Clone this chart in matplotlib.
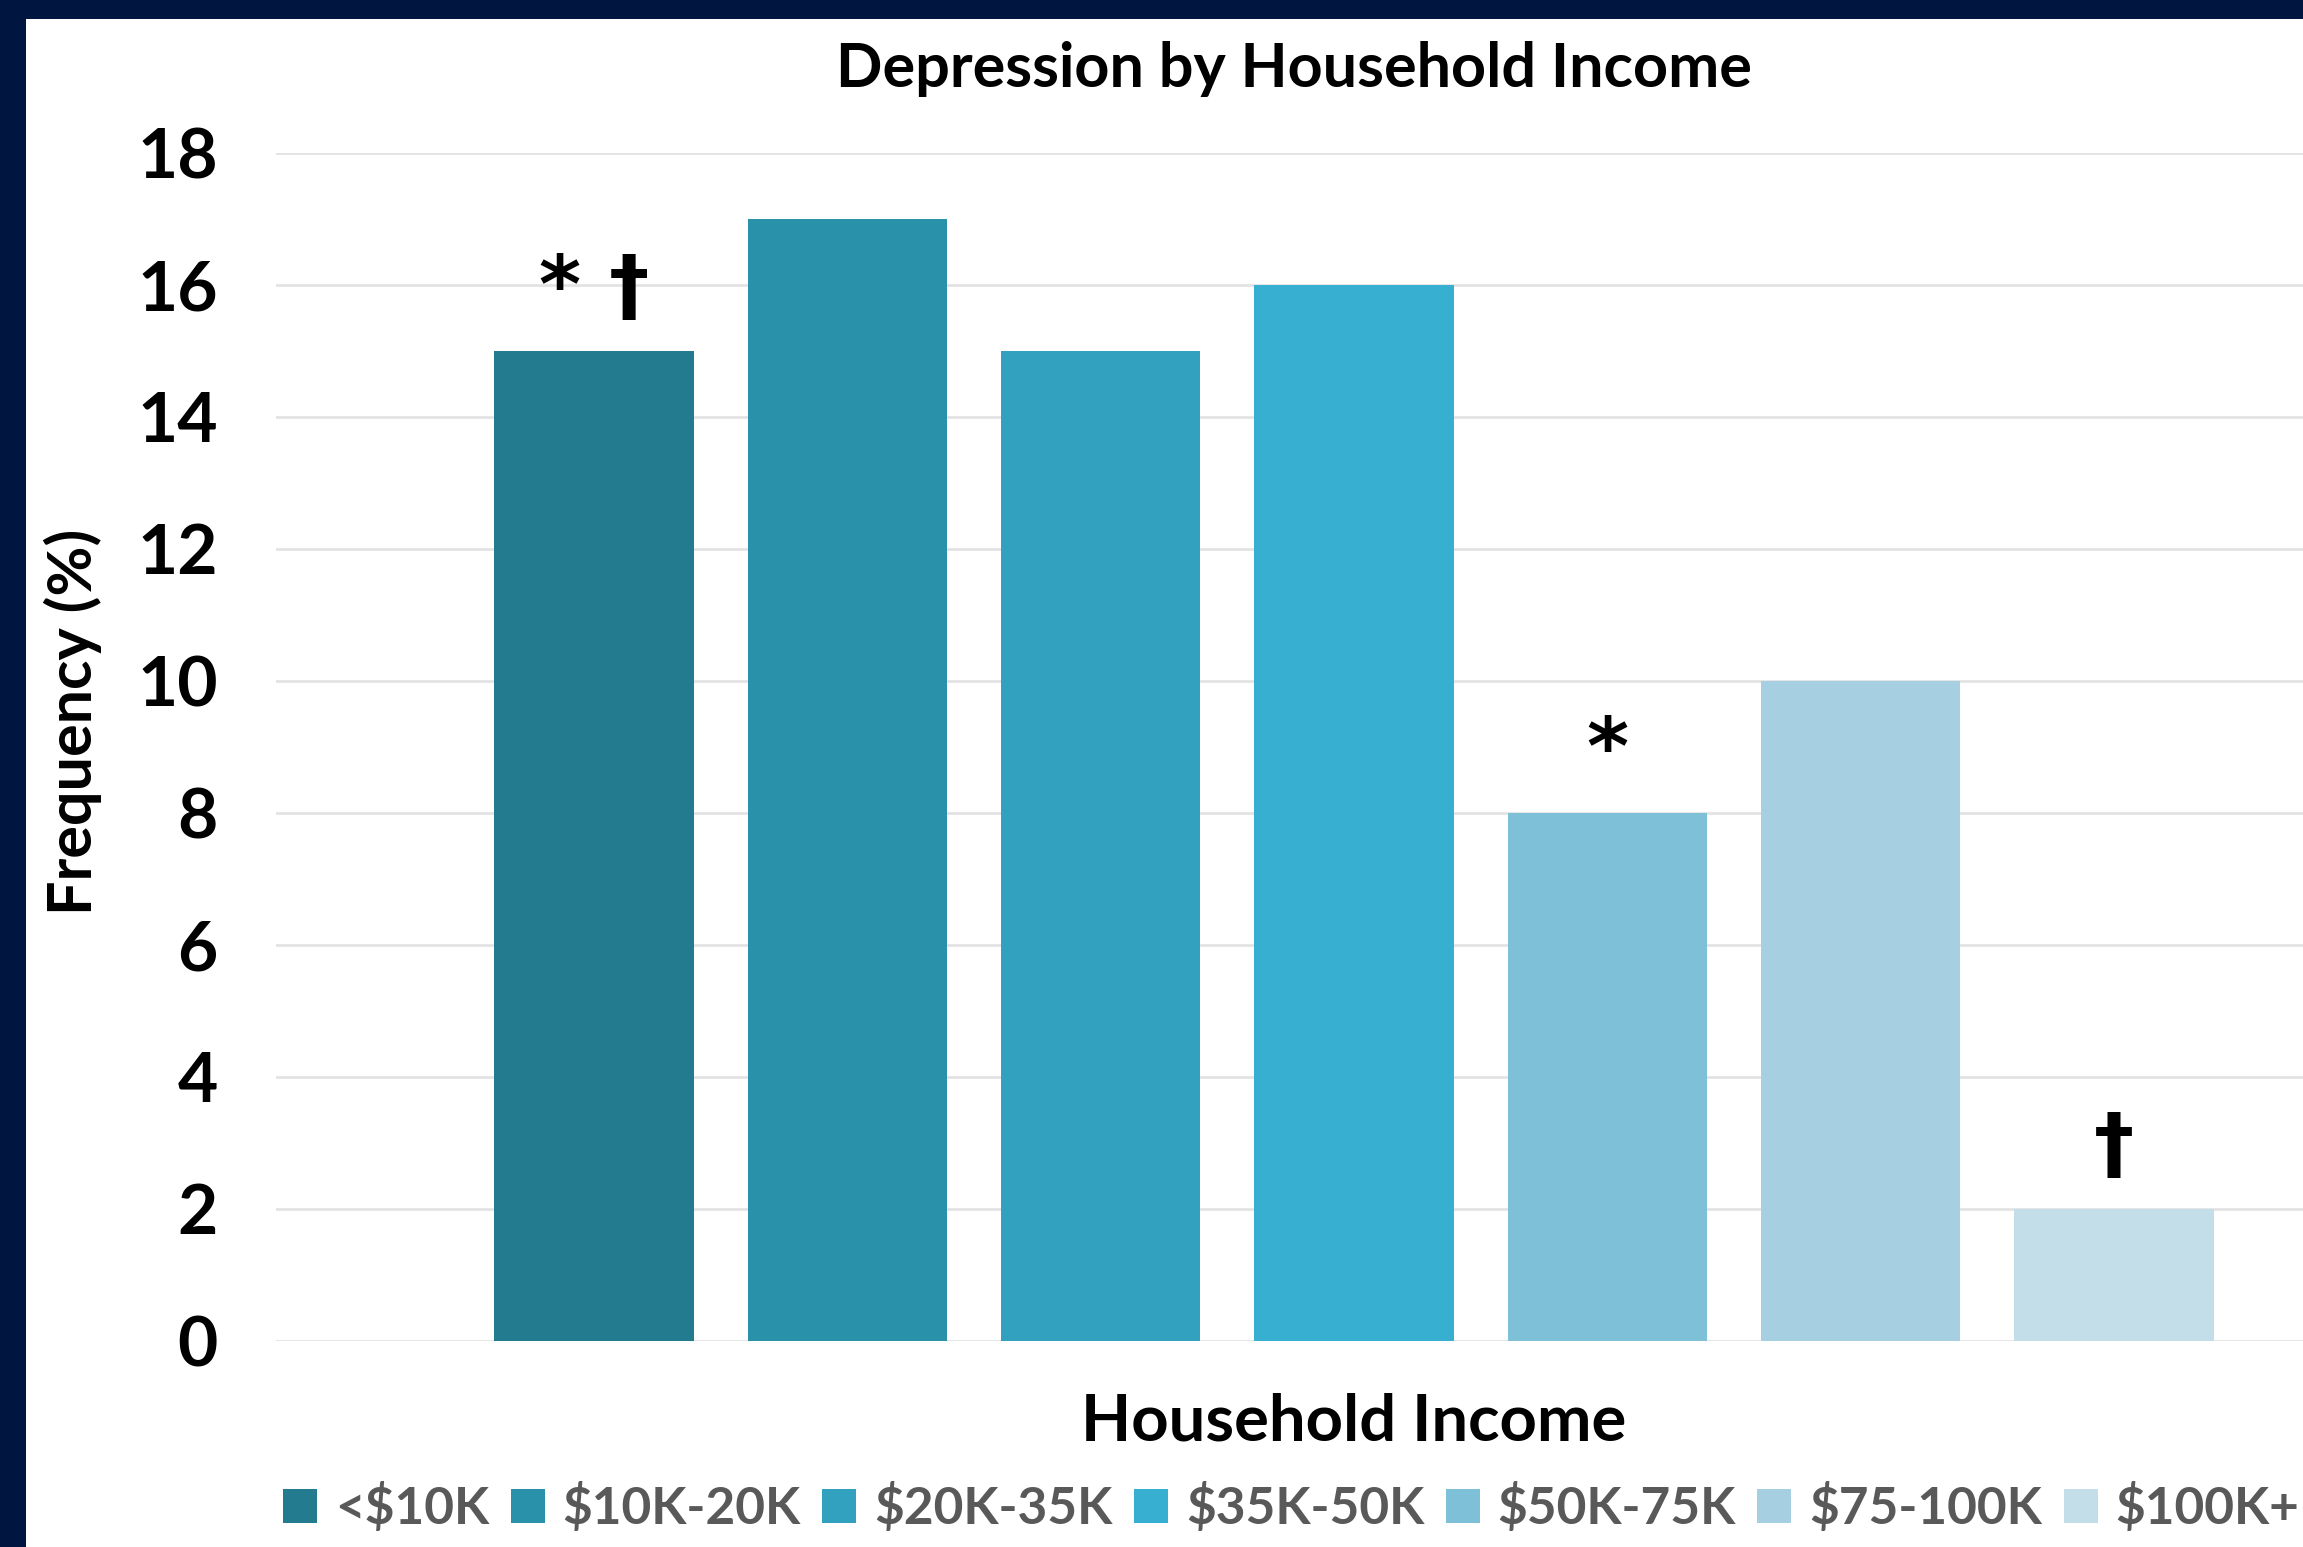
import matplotlib.pyplot as plt
import matplotlib.patches as mpatches
import numpy as np

# data
groups = ['<$10K', '$10K-20K', '$20K-35K', '$35K-50K', '$50K-75K', '$75-100K', '$100K+']
freq = [15, 17, 15, 16, 8, 10, 2]
marks = ['* \u2020', '', '', '', '*', '', '\u2020']
colors = ['#237B90', '#2A91AB', '#32A0BF', '#37AFD0', '#7DC0D7', '#A6CFE1', '#C3DDE9']
yticks = list(range(0, 19, 2))

plt.rcParams['font.family'] = ['Lato', 'DejaVu Sans']

W, H = 2303, 1547
fig = plt.figure(figsize=(W / 200, H / 200), dpi=200)
fig.patch.set_facecolor('#001640')

# white chart area inside the navy frame (runs off the right and bottom)
fig.add_artist(mpatches.Rectangle((26 / W, 0), 1, 1 - 19 / H, transform=fig.transFigure,
                                  facecolor='white', edgecolor='none', zorder=0))

ax = fig.add_axes([276 / W, 1 - 1341 / H, (2432 - 276) / W, (1341 - 153) / H])
ax.set_facecolor('none')

x = np.arange(len(groups))
bars = ax.bar(x, freq, width=0.787, color=colors, zorder=3)

for xi, v, m in zip(x, freq, marks):
    if m:
        ax.annotate(m, (xi, v), xytext=(0, 8), textcoords='offset points',
                    ha='center', va='bottom', fontsize=29, fontweight='bold', color='black',
                    family=['DejaVu Sans'])

ax.set_xlim(-1.256, len(groups) - 1 + 1.256)
ax.set_ylim(0, 18)
ax.set_yticks(yticks)
ax.set_yticklabels([str(t) for t in yticks], fontsize=25, fontweight='bold')
ax.tick_params(axis='y', length=0, pad=21)
ax.set_xticks([])
ax.grid(axis='y', color='#E3E3E3', linewidth=1.0, zorder=0)
for s in ax.spines.values():
    s.set_visible(False)

fig.text(1294 / W, 1 - 69 / H, 'Depression by Household Income', ha='center', va='center',
         fontsize=22, fontweight='bold')
fig.text(73 / W, 1 - 722 / H, 'Frequency (%)', ha='center', va='center', rotation=90,
         fontsize=22, fontweight='bold')
fig.text(1354 / W, 1 - 1422 / H, 'Household Income', ha='center', va='center',
         fontsize=23.5, fontweight='bold')

leg = fig.legend(bars, groups, loc='center left', bbox_to_anchor=(283 / W, 1 - 1508 / H), ncol=7,
                 frameon=False, fontsize=18.5, handlelength=0.66, handleheight=0.66,
                 handletextpad=0.35, columnspacing=0.42, borderaxespad=0, borderpad=0)
for t in leg.get_texts():
    t.set_color('#595959')
    t.set_fontweight('bold')

fig.savefig('out.png', dpi=200, facecolor=fig.get_facecolor())
